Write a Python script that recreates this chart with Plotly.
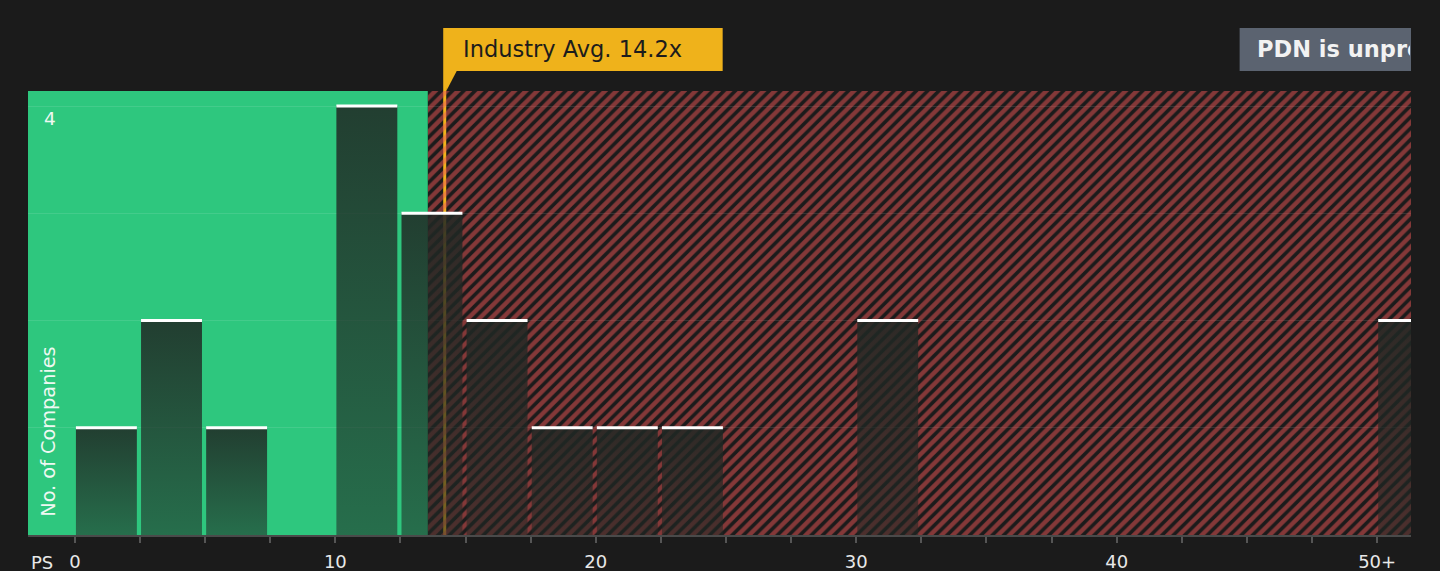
import plotly.graph_objects as go

# Options
font = "DejaVu Sans"
bin_width = 2.5
x_range = [-1.8, 51.3]
y_top = 4.14

# PS bins (left edges) and number of companies in each
bin_starts = [0, 2.5, 5, 7.5, 10, 12.5, 15, 17.5, 20, 22.5, 25, 27.5, 30,
              32.5, 35, 37.5, 40, 42.5, 45, 47.5, 50]
companies = [1, 2, 1, 0, 4, 3, 2, 1, 1, 1, 0, 0, 2,
             0, 0, 0, 0, 0, 0, 0, 2]

tick_vals = [0, 2.5, 5, 7.5, 10, 12.5, 15, 17.5, 20, 22.5, 25, 27.5, 30,
             32.5, 35, 37.5, 40, 42.5, 45, 47.5, 50]
tick_text = ["0", "", "", "", "10", "", "", "", "20", "", "", "", "30",
             "", "", "", "40", "", "", "", "50+"]

fair_edge = 13.55
industry_avg = 14.2
company = "PDN"

fig = go.Figure()

# Hatched "expensive" region
fig.add_trace(go.Bar(
    x=[(fair_edge + 60) / 2], y=[y_top], width=[60 - fair_edge], base=0,
    marker=dict(color="rgba(0,0,0,0)", line_width=0,
                pattern=dict(shape="/", fgcolor="#ee5656", bgcolor="rgba(0,0,0,0)",
                             size=8, solidity=0.55)),
    hoverinfo="skip", showlegend=False,
))

# Bars with a vertical gradient, one trace per bar
top_x, top_y = [], []
for start, n in zip(bin_starts, companies):
    if n == 0:
        continue
    x0, x1 = start + 0.04, start + 2.38
    fig.add_trace(go.Scatter(
        x=[x0, x1, x1, x0, x0], y=[0, 0, n, n, 0],
        fill="toself", mode="lines", line_width=0,
        fillgradient=dict(type="vertical",
                          colorscale=[[0, "rgba(32,40,36,0.56)"], [1, "rgba(32,40,36,0.86)"]]),
        hoverinfo="skip", showlegend=False,
    ))
    top_x += [x0, x1, None]
    top_y += [n, n, None]

fig.add_trace(go.Scatter(x=top_x, y=top_y, mode="lines",
                         line=dict(color="white", width=3),
                         hoverinfo="skip", showlegend=False))

box_y0, box_y1 = (535 - 71) / 444, (535 - 28) / 444
fig.update_layout(
    width=1440, height=571,
    margin=dict(l=28, r=29, t=91, b=36),
    paper_bgcolor="#1b1b1b", plot_bgcolor="#1b1b1b",
    font=dict(family=font, color="#e8e8e8"),
    bargap=0,
    shapes=[
        # green "fair" region
        dict(type="rect", xref="x", yref="paper", x0=x_range[0], x1=fair_edge, y0=0, y1=1,
             line_width=0, fillcolor="#2ec77e", layer="below"),
        # industry average line + label box
        dict(type="line", xref="x", yref="paper", x0=industry_avg, x1=industry_avg,
             y0=0, y1=box_y1, line=dict(color="#efb21b", width=3), layer="between"),
        dict(type="rect", xref="x", yref="paper", x0=industry_avg, x1=industry_avg + 278 / 26.05,
             y0=box_y0, y1=box_y1, line_width=0, fillcolor="#efb21b"),
        dict(type="path", xref="x", yref="paper",
             path=f"M {industry_avg},{box_y0} L {industry_avg + 0.46},{box_y0} L {industry_avg + 0.06},1 Z",
             line_width=0, fillcolor="#efb21b"),
        # company box, clipped by the plot edge
        dict(type="rect", xref="x", yref="paper", x0=44.72, x1=60,
             y0=box_y0, y1=box_y1, line_width=0, fillcolor="#5b6370"),
    ],
    annotations=[
        dict(text=f"Industry Avg. {industry_avg}x", xref="x", yref="paper",
             x=industry_avg, xshift=16, xanchor="left", y=(box_y0 + box_y1) / 2,
             yanchor="middle", showarrow=False, font=dict(size=22.5, color="#1c1c1c")),
        dict(text=f"<b>{company} is unprofitable</b>", xref="x", yref="paper",
             x=44.72, xshift=15, xanchor="left", y=(box_y0 + box_y1) / 2,
             yanchor="middle", showarrow=False, width=153, align="left",
             font=dict(size=22.5, color="#f2f2f2")),
        dict(text="PS", xref="x", yref="paper", x=-1.27, y=(535 - 562) / 444,
             yanchor="middle", showarrow=False, font=dict(size=18, color="#e8e8e8")),
        dict(text="No. of Companies", xref="x", yref="paper", x=-1.04, y=(535 - 519) / 444,
             yanchor="bottom", textangle=-90, showarrow=False,
             font=dict(size=19.3, color="#eef8f2")),
    ],
)

fig.update_xaxes(range=x_range, tickvals=tick_vals, ticktext=tick_text,
                 ticks="outside", ticklen=6, tickwidth=1.5, tickcolor="#555555",
                 showline=True, linecolor="#4a4a4a", linewidth=2,
                 showgrid=False, zeroline=False, ticklabelstandoff=3, automargin=False,
                 tickfont=dict(size=18, color="#e8e8e8"), fixedrange=True)
fig.update_yaxes(range=[0, y_top], tickvals=[1, 2, 3, 4], ticktext=["", "", "", "4"],
                 ticks="", ticklabelposition="inside bottom", ticklabelstandoff=13,
                 showgrid=True, gridcolor="rgba(255,255,255,0.1)", gridwidth=1,
                 zeroline=False, showline=False, automargin=False,
                 tickfont=dict(size=18.5, color="#eef8f2"), fixedrange=True)

# page has a default body margin; remove it so the figure fills the window
fig.write_html("out.html", config={"displayModeBar": False},
               post_script="document.body.style.margin='0';"
                           "document.body.style.overflow='hidden';"
                           "document.body.style.background='#1b1b1b';")
